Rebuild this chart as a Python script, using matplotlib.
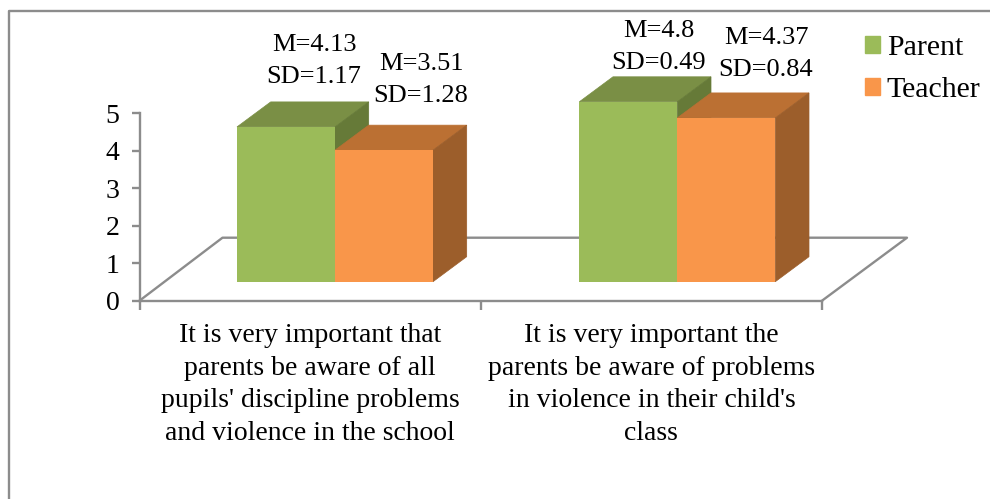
import matplotlib
matplotlib.use("Agg")
import matplotlib.pyplot as plt
from matplotlib.lines import Line2D
from matplotlib.patches import Patch, Polygon

categories = ["It is very important that\nparents be aware of all\npupils' discipline problems\nand violence in the school",
              "It is very important the\nparents be aware of problems\nin violence in their child's\nclass"]
series = ["Parent", "Teacher"]
parent_mean = [4.13, 4.8]
teacher_mean = [3.51, 4.37]
parent_sd = [1.17, 0.49]
teacher_sd = [1.28, 0.84]

W, H = 990, 499
plt.rcParams['font.family'] = ['Liberation Serif', 'DejaVu Serif']
plt.rcParams['font.size'] = 20

fig = plt.figure(figsize=(W / 100, H / 100), dpi=100)
ax = fig.add_axes([139.5 / W, 1 - 300.7 / H, 682.5 / W, 187.4 / H])
ax.set_xlim(0, 2)
ax.set_ylim(0, 5)
ax.patch.set_visible(False)

grey = "#8c8c8c"
px_x = 2 / 682.5
px_y = 5 / 187.4

# 3d look: depth of the bars and floor
bar_w = 98 * px_x
depth_x = 33.7 * px_x
depth_y = 25 * px_y
floor_y = 19 * px_y
floor_x = 83 * px_x
floor_x_r = 85 * px_x
floor_h = 63 * px_y
group_off = [195.5 * px_x, 537.8 * px_x]


def add_bar(x, val, front, top, side):
    y0 = floor_y
    y1 = floor_y + val
    ax.add_patch(Polygon([(x, y1), (x + bar_w, y1), (x + bar_w + depth_x, y1 + depth_y), (x + depth_x, y1 + depth_y)],
                         facecolor=top, edgecolor=top, lw=0.5, clip_on=False, zorder=3))
    ax.add_patch(Polygon([(x + bar_w, y0), (x + bar_w + depth_x, y0 + depth_y), (x + bar_w + depth_x, y1 + depth_y), (x + bar_w, y1)],
                         facecolor=side, edgecolor=side, lw=0.5, clip_on=False, zorder=3))
    ax.bar(x, val, width=bar_w, bottom=y0, align='edge', color=front, clip_on=False, zorder=3)


# floor
ax.plot([0, floor_x, 2 + floor_x_r, 2], [0, floor_h, floor_h, 0], color=grey, lw=1.7, clip_on=False, zorder=1)

for i in range(len(categories)):
    add_bar(group_off[i] - bar_w, parent_mean[i], "#9bbb59", "#7a8f45", "#667a38")
    add_bar(group_off[i], teacher_mean[i], "#f9964a", "#bb7033", "#9c5e2b")

# axes
for s in ['top', 'right']:
    ax.spines[s].set_visible(False)
for s in ['left', 'bottom']:
    ax.spines[s].set_color(grey)
    ax.spines[s].set_linewidth(1.7)
ax.set_yticks(range(6))
ax.tick_params(axis='y', length=5.5, width=1.7, color=grey, pad=9)
ax.set_xticks([0, 1, 2])
ax.set_xticklabels([])
ax.tick_params(axis='x', which='major', length=6.5, width=1.7, color=grey)
ax.set_xticks([0.5, 1.5], minor=True)
ax.set_xticklabels(categories, minor=True, linespacing=1.4, ha='center')
ax.tick_params(axis='x', which='minor', length=0, pad=16)

# mean / sd labels
label_xy = [[(314, 61), (659, 47)], [(421, 80), (766, 54)]]
for i in range(len(categories)):
    x, y = label_xy[0][i]
    fig.text(x / W, 1 - y / H, "M=%s\nSD=%s" % (parent_mean[i], parent_sd[i]), ha='center', va='center',
             fontsize=19, linespacing=1.55)
    x, y = label_xy[1][i]
    fig.text(x / W, 1 - y / H, "M=%s\nSD=%s" % (teacher_mean[i], teacher_sd[i]), ha='center', va='center',
             fontsize=19, linespacing=1.55)

# legend
handles = [Patch(color="#9bbb59", label=series[0]), Patch(color="#f9964a", label=series[1])]
fig.legend(handles=handles, loc='upper left', bbox_to_anchor=(865 / W, 1 - 35 / H), bbox_transform=fig.transFigure,
           frameon=False, borderpad=0, borderaxespad=0, fontsize=21.5, handlelength=0.51, handleheight=0.51,
           handletextpad=0.22, labelspacing=0.55)

# outer frame, only top and left are in the crop
fig.add_artist(Line2D([8.5 / W, 8.5 / W, 1], [0, 1 - 10.5 / H, 1 - 10.5 / H], color=grey, lw=1.7))

fig.savefig("out.png", dpi=100)
